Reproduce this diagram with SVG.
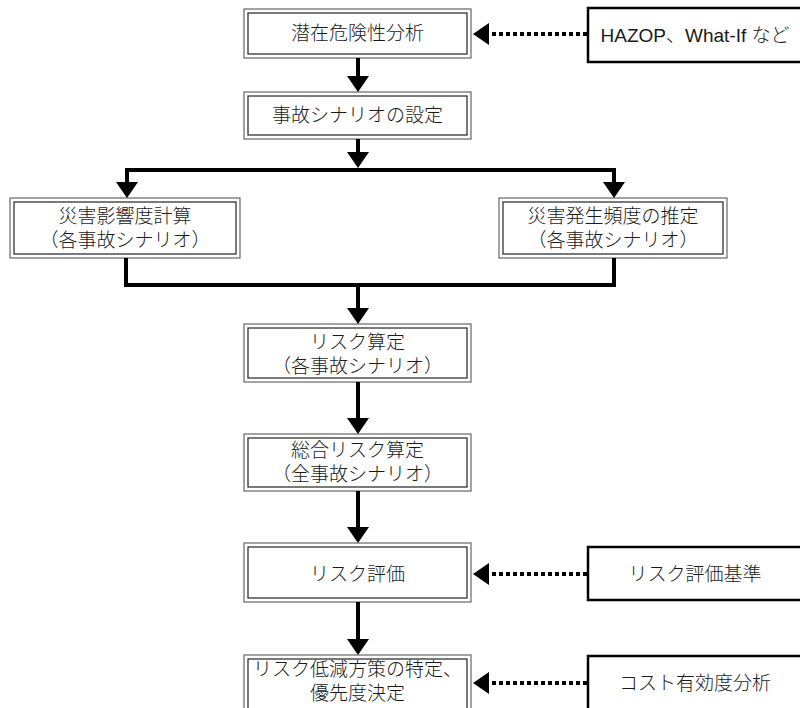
<svg xmlns="http://www.w3.org/2000/svg" width="800" height="708" viewBox="0 0 800 708">
<style>
.o{fill:#fff;stroke:#666;stroke-width:1.2}
.i{fill:none;stroke:#222;stroke-width:1.2}
.s{fill:#fff;stroke:#000;stroke-width:2.5}
.t{font-family:"Liberation Sans","Noto Sans CJK JP",sans-serif;font-size:19px;font-weight:300;fill:#1a1a1a;text-anchor:middle;dominant-baseline:central}
.c{fill:none;stroke:#000;stroke-width:4;stroke-linejoin:miter}
.d{fill:none;stroke:#000;stroke-width:4;stroke-dasharray:4 3}
</style>
<defs>
<marker id="ah" markerUnits="userSpaceOnUse" markerWidth="16" markerHeight="22" viewBox="0 0 16 22" refX="0" refY="11" orient="auto"><path d="M0,0 L16,11 L0,22 z" fill="#000"/></marker>
</defs>
<g id="n1"><rect class="o" x="244" y="9" width="227" height="49"/><rect class="i" x="248" y="13" width="219" height="41"/><text class="t" x="357.5" y="33.5">潜在危険性分析</text></g>
<g id="n2"><rect class="o" x="244" y="92" width="227" height="47"/><rect class="i" x="248" y="96" width="219" height="39"/><text class="t" x="357.5" y="115.5">事故シナリオの設定</text></g>
<g id="n3"><rect class="o" x="10" y="198" width="230" height="60"/><rect class="i" x="14" y="202" width="222" height="52"/><text class="t" x="125" y="216">災害影響度計算</text><text class="t" x="125" y="240">（各事故シナリオ）</text></g>
<g id="n4"><rect class="o" x="499" y="198" width="228" height="60"/><rect class="i" x="503" y="202" width="220" height="52"/><text class="t" x="613" y="216">災害発生頻度の推定</text><text class="t" x="613" y="240">（各事故シナリオ）</text></g>
<g id="n5"><rect class="o" x="244" y="324" width="227" height="58"/><rect class="i" x="248" y="328" width="219" height="50"/><text class="t" x="357.5" y="342">リスク算定</text><text class="t" x="357.5" y="366">（各事故シナリオ）</text></g>
<g id="n6"><rect class="o" x="244" y="434" width="227" height="57"/><rect class="i" x="248" y="438" width="219" height="49"/><text class="t" x="357.5" y="450">総合リスク算定</text><text class="t" x="357.5" y="474">（全事故シナリオ）</text></g>
<g id="n7"><rect class="o" x="244" y="543" width="227" height="59"/><rect class="i" x="248" y="547" width="219" height="51"/><text class="t" x="357.5" y="574">リスク評価</text></g>
<g id="n8"><rect class="o" x="244" y="655" width="227" height="60"/><rect class="i" x="248" y="659" width="219" height="52"/><text class="t" x="357.5" y="669">リスク低減方策の特定、</text><text class="t" x="357.5" y="693">優先度決定</text></g>
<g id="e1"><rect class="s" x="588" y="8" width="230" height="54"/><text class="t" x="695" y="35">HAZOP、What-If など</text></g>
<g id="e2"><rect class="s" x="588" y="547" width="230" height="53"/><text class="t" x="695" y="574">リスク評価基準</text></g>
<g id="e3"><rect class="s" x="588" y="656" width="230" height="60"/><text class="t" x="695" y="683">コスト有効度分析</text></g>
<g id="connectors">
<path class="c" d="M358,58 V76" marker-end="url(#ah)"/>
<path class="c" d="M358,139 V152" marker-end="url(#ah)"/>
<path class="c" d="M358,170 H127 V182" marker-end="url(#ah)"/>
<path class="c" d="M358,170 H614 V182" marker-end="url(#ah)"/>
<path class="c" d="M126,258 V285 H614 V258"/>
<path class="c" d="M358,285 V308" marker-end="url(#ah)"/>
<path class="c" d="M358,382 V418" marker-end="url(#ah)"/>
<path class="c" d="M358,491 V527" marker-end="url(#ah)"/>
<path class="c" d="M358,602 V639" marker-end="url(#ah)"/>
<path class="d" d="M587,34 H489" marker-end="url(#ah)"/>
<path class="d" d="M587,574 H489" marker-end="url(#ah)"/>
<path class="d" d="M587,683 H489" marker-end="url(#ah)"/>
</g>
</svg>
